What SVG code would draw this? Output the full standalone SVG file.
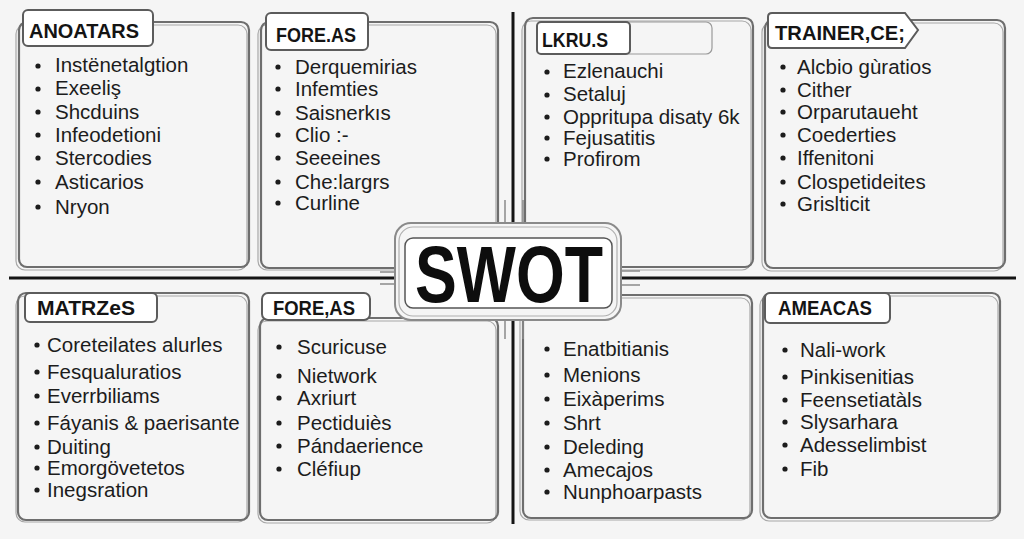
<svg xmlns="http://www.w3.org/2000/svg" width="1024" height="539" viewBox="0 0 1024 539">
<style>
.bg{fill:#f5f5f5}
.box{fill:none;stroke:#6e6e6e;stroke-width:2.2}
.box2{fill:none;stroke:#a8a8a8;stroke-width:1.2}
.tab{fill:#ffffff;stroke:#5c5c5c;stroke-width:2}
.tab2{fill:none;stroke:#9a9a9a;stroke-width:1.2}
.axis{stroke:#141414;stroke-width:3;fill:none}
.sk{stroke:#8a8a8a;stroke-width:1.5;fill:none}
.h{font-family:"Liberation Sans",Arial,sans-serif;font-weight:bold;font-size:20px;fill:#141414}
.t{font-family:"Liberation Sans",Arial,sans-serif;font-size:20.5px;fill:#1c1c1c}
.b{fill:#1c1c1c}
</style>
<defs>
<circle id="dot" r="2.6" class="b"/>
</defs>
<rect class="bg" x="0" y="0" width="1024" height="539"/>

<g id="connectors">
<path class="axis" d="M9 278 L400 278"/>
<path class="axis" d="M613 278 L1016 278"/>
<path class="axis" d="M513 12 L513 230"/>
<path class="axis" d="M513 318 L513 524"/>
</g>

<g id="p1">
<rect class="box2" x="16" y="25" width="231" height="245" rx="9"/>
<rect class="box" x="19" y="22" width="230" height="245" rx="8"/>
<rect class="tab" x="23" y="10" width="130" height="36" rx="5"/>
<text class="h" x="29" y="38" textLength="110" lengthAdjust="spacingAndGlyphs">ANOATARS</text>
<use href="#dot" x="38" y="66"/><text class="t" x="55" y="72">Instënetalgtion</text>
<use href="#dot" x="38" y="89"/><text class="t" x="55" y="95">Exeeliş</text>
<use href="#dot" x="38" y="112"/><text class="t" x="55" y="119">Shcduins</text>
<use href="#dot" x="38" y="135"/><text class="t" x="55" y="142">Infeodetioni</text>
<use href="#dot" x="38" y="158"/><text class="t" x="55" y="165">Stercodies</text>
<use href="#dot" x="38" y="182"/><text class="t" x="55" y="189">Asticarios</text>
<use href="#dot" x="38" y="207"/><text class="t" x="55" y="214">Nryon</text>
</g>

<g id="p2">
<rect class="box2" x="258" y="25" width="238" height="245" rx="9"/>
<rect class="box" x="261" y="22" width="237" height="246" rx="8"/>
<rect class="tab" x="266" y="13" width="102" height="37" rx="5"/>
<text class="h" x="276" y="42" textLength="80" lengthAdjust="spacingAndGlyphs">FORE.AS</text>
<use href="#dot" x="278" y="67"/><text class="t" x="295" y="74">Derquemirias</text>
<use href="#dot" x="278" y="89"/><text class="t" x="295" y="96">Infemties</text>
<use href="#dot" x="278" y="113"/><text class="t" x="295" y="120">Saisnerkıs</text>
<use href="#dot" x="278" y="135"/><text class="t" x="295" y="142">Clio :-</text>
<use href="#dot" x="278" y="158"/><text class="t" x="295" y="165">Seeeines</text>
<use href="#dot" x="278" y="182"/><text class="t" x="295" y="189">Che:largrs</text>
<use href="#dot" x="278" y="203"/><text class="t" x="295" y="210">Curline</text>
</g>

<g id="p3">
<rect class="box2" x="522" y="21" width="229" height="249" rx="9"/>
<rect class="box" x="525" y="18" width="228" height="249" rx="8"/>
<rect class="tab2" x="537" y="22" width="175" height="32" rx="6"/>
<rect class="tab" x="537" y="22" width="93" height="32" rx="4"/>
<text class="h" x="542" y="47" textLength="66" lengthAdjust="spacingAndGlyphs">LKRU.S</text>
<use href="#dot" x="547" y="72"/><text class="t" x="563" y="78">Ezlenauchi</text>
<use href="#dot" x="547" y="95"/><text class="t" x="563" y="101">Setaluj</text>
<use href="#dot" x="547" y="117"/><text class="t" x="563" y="124">Oppritupa disaty 6k</text>
<use href="#dot" x="547" y="138"/><text class="t" x="563" y="145">Fejusatitis</text>
<use href="#dot" x="547" y="159"/><text class="t" x="563" y="166">Profirom</text>
</g>

<g id="p4">
<rect class="box2" x="762" y="23" width="241" height="248" rx="9"/>
<rect class="box" x="765" y="20" width="240" height="248" rx="8"/>
<path class="tab" d="M772 13 L905 13 L918 30 L905 48 L772 48 Q768 48 768 44 L768 17 Q768 13 772 13 Z"/>
<text class="h" x="775" y="40" textLength="130" lengthAdjust="spacingAndGlyphs">TRAINER,CE;</text>
<use href="#dot" x="783" y="67"/><text class="t" x="797" y="74">Alcbio gùratios</text>
<use href="#dot" x="783" y="90"/><text class="t" x="797" y="97">Cither</text>
<use href="#dot" x="783" y="112"/><text class="t" x="797" y="119">Orparutaueht</text>
<use href="#dot" x="783" y="135"/><text class="t" x="797" y="142">Coederties</text>
<use href="#dot" x="783" y="158"/><text class="t" x="797" y="165">Iffenitoni</text>
<use href="#dot" x="783" y="182"/><text class="t" x="797" y="189">Clospetideites</text>
<use href="#dot" x="783" y="204"/><text class="t" x="797" y="211">Grislticit</text>
</g>

<g id="p5">
<rect class="box2" x="16" y="296" width="231" height="226" rx="9"/>
<rect class="box" x="18" y="293" width="231" height="227" rx="8"/>
<rect class="tab" x="25" y="293" width="132" height="29" rx="5"/>
<text class="h" x="37" y="315" textLength="98" lengthAdjust="spacingAndGlyphs">MATRZeS</text>
<use href="#dot" x="37" y="345"/><text class="t" x="47" y="352">Coreteilates alurles</text>
<use href="#dot" x="37" y="372"/><text class="t" x="47" y="379">Fesqualuratios</text>
<use href="#dot" x="37" y="396"/><text class="t" x="47" y="403">Everrbiliams</text>
<use href="#dot" x="37" y="423"/><text class="t" x="47" y="430">Fáyanis &amp; paerisante</text>
<use href="#dot" x="37" y="447"/><text class="t" x="47" y="454">Duiting</text>
<use href="#dot" x="37" y="468"/><text class="t" x="47" y="475">Emorgövetetos</text>
<use href="#dot" x="37" y="490"/><text class="t" x="47" y="497">Inegsration</text>
</g>

<g id="p6">
<rect class="box2" x="258" y="321" width="238" height="202" rx="9"/>
<rect class="box" x="260" y="318" width="238" height="202" rx="8"/>
<rect class="tab" x="262" y="293" width="108" height="27" rx="6"/>
<text class="h" x="273" y="315" textLength="82" lengthAdjust="spacingAndGlyphs">FORE,AS</text>
<use href="#dot" x="279" y="347"/><text class="t" x="297" y="354">Scuricuse</text>
<use href="#dot" x="279" y="376"/><text class="t" x="297" y="383">Nietwork</text>
<use href="#dot" x="279" y="398"/><text class="t" x="297" y="405">Axriurt</text>
<use href="#dot" x="279" y="423"/><text class="t" x="297" y="430">Pectiduiès</text>
<use href="#dot" x="279" y="446"/><text class="t" x="297" y="453">Pándaerience</text>
<use href="#dot" x="279" y="469"/><text class="t" x="297" y="476">Cléfiup</text>
</g>

<g id="p7">
<rect class="box2" x="520" y="298" width="230" height="222" rx="9"/>
<rect class="box" x="523" y="295" width="229" height="223" rx="8"/>
<use href="#dot" x="547" y="349"/><text class="t" x="563" y="356">Enatbitianis</text>
<use href="#dot" x="547" y="375"/><text class="t" x="563" y="382">Menions</text>
<use href="#dot" x="547" y="399"/><text class="t" x="563" y="406">Eixàperims</text>
<use href="#dot" x="547" y="423"/><text class="t" x="563" y="430">Shrt</text>
<use href="#dot" x="547" y="447"/><text class="t" x="563" y="454">Deleding</text>
<use href="#dot" x="547" y="470"/><text class="t" x="563" y="477">Amecajos</text>
<use href="#dot" x="547" y="492"/><text class="t" x="563" y="499">Nunphoarpasts</text>
</g>

<g id="p8">
<rect class="box2" x="760" y="296" width="238" height="225" rx="9"/>
<rect class="box" x="763" y="293" width="237" height="225" rx="8"/>
<rect class="tab" x="765" y="293" width="125" height="30" rx="5"/>
<text class="h" x="778" y="315" textLength="94" lengthAdjust="spacingAndGlyphs">AMEACAS</text>
<use href="#dot" x="785" y="350"/><text class="t" x="800" y="357">Nali-work</text>
<use href="#dot" x="785" y="377"/><text class="t" x="800" y="384">Pinkisenitias</text>
<use href="#dot" x="785" y="400"/><text class="t" x="800" y="407">Feensetiatàls</text>
<use href="#dot" x="785" y="422"/><text class="t" x="800" y="429">Slysarhara</text>
<use href="#dot" x="785" y="445"/><text class="t" x="800" y="452">Adesselimbist</text>
<use href="#dot" x="785" y="469"/><text class="t" x="800" y="476">Fib</text>
</g>

<g id="swot">
<rect x="395" y="223" width="226" height="97" rx="16" class="bg" stroke="#8a8a8a" stroke-width="2"/>
<rect x="399" y="227" width="218" height="89" rx="14" fill="none" stroke="#b0b0b0" stroke-width="1.2"/>
<path class="sk" d="M505 200 L505 223 M523 200 L523 223 M505 320 L505 339 M523 320 L523 339 M380 272 L395 272 M380 284 L395 284 M621 271 L640 271 M621 285 L640 285"/>
<rect x="405" y="238" width="207" height="70" rx="8" fill="#ffffff" stroke="#555555" stroke-width="1.5"/>
<text x="509" y="302" text-anchor="middle" font-family="Liberation Sans, Arial, sans-serif" font-weight="bold" font-size="80" fill="#0d0d0d" textLength="188" lengthAdjust="spacingAndGlyphs">SWOT</text>
</g>
</svg>
